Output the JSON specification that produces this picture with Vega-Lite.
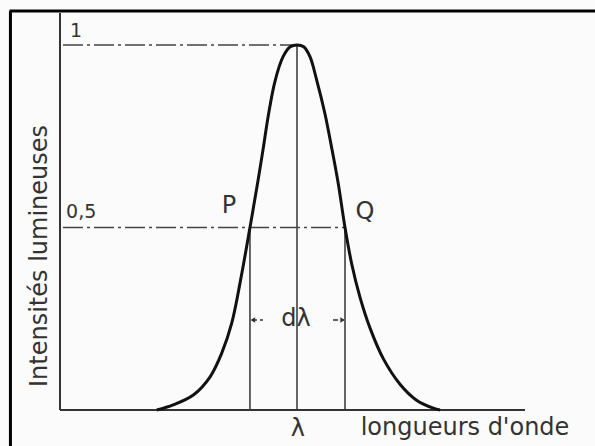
{
  "$schema": "https://vega.github.io/schema/vega-lite/v6.json",
  "width": 595,
  "height": 446,
  "autosize": {"type": "none"},
  "padding": 0,
  "background": "#fbfbfb",
  "config": {"view": {"stroke": null}},
  "datasets": {
    "curve": [
      {"x": -2.92, "y": 0}, {"x": -2.58, "y": 0.014}, {"x": -2.16, "y": 0.041},
      {"x": -1.81, "y": 0.091}, {"x": -1.57, "y": 0.155}, {"x": -1.36, "y": 0.238},
      {"x": -1.17, "y": 0.36}, {"x": -0.98, "y": 0.5},
      {"x": -0.81, "y": 0.63}, {"x": -0.7, "y": 0.72}, {"x": -0.6, "y": 0.805},
      {"x": -0.46, "y": 0.9}, {"x": -0.29, "y": 0.968}, {"x": -0.14, "y": 0.995},
      {"x": 0, "y": 1}, {"x": 0.14, "y": 0.995}, {"x": 0.27, "y": 0.968},
      {"x": 0.41, "y": 0.904}, {"x": 0.58, "y": 0.813}, {"x": 0.72, "y": 0.72},
      {"x": 0.86, "y": 0.62}, {"x": 1.0, "y": 0.5}, {"x": 1.14, "y": 0.4},
      {"x": 1.31, "y": 0.31}, {"x": 1.52, "y": 0.225}, {"x": 1.8, "y": 0.14},
      {"x": 2.15, "y": 0.07}, {"x": 2.49, "y": 0.027}, {"x": 2.84, "y": 0.005},
      {"x": 2.98, "y": 0}
    ],
    "frame": [
      {"x": -5.99, "x2": 6.21, "y": 1.0932, "y2": 1.0932},
      {"x": -5.97, "x2": -5.97, "y": -0.0986, "y2": 1.0932}
    ],
    "axes": [
      {"x": -4.9375, "x2": -4.9375, "y": 0, "y2": 1.0877},
      {"x": -4.9375, "x2": 4.75, "y": 0, "y2": 0}
    ],
    "guides": [
      {"x": -0.98, "x2": -0.98, "y": 0, "y2": 0.5},
      {"x": 0, "x2": 0, "y": 0, "y2": 1},
      {"x": 1.0, "x2": 1.0, "y": 0, "y2": 0.5}
    ],
    "levels": [
      {"x": -4.875, "x2": -0.1, "y": 1, "y2": 1},
      {"x": -4.875, "x2": 1.0, "y": 0.5, "y2": 0.5}
    ],
    "arrowShafts": [
      {"x": -0.94, "x2": -0.71, "y": 0.2466, "y2": 0.2466},
      {"x": 0.75, "x2": 0.97, "y": 0.2466, "y2": 0.2466}
    ],
    "arrowHeads": [
      {"x": -0.92, "y": 0.2466, "dir": "left"},
      {"x": 0.95, "y": 0.2466, "dir": "right"}
    ],
    "tickLabels": [
      {"x": -4.73, "y": 1.022, "label": "1"},
      {"x": -4.81, "y": 0.526, "label": "0,5"}
    ],
    "points": [
      {"x": -1.417, "y": 0.54, "label": "P"},
      {"x": 1.417, "y": 0.523, "label": "Q"}
    ],
    "annot": [
      {"x": -0.02, "y": 0.23, "label": "dλ"},
      {"x": 0.02, "y": -0.0712, "label": "λ"},
      {"x": 3.5, "y": -0.0685, "label": "longueurs d'onde"}
    ],
    "ytitle": [
      {"x": -5.354, "y": 0.4219, "label": "Intensités lumineuses"}
    ]
  },
  "layer": [
    {
      "data": {"name": "frame"},
      "mark": {"type": "rule", "strokeWidth": 3, "color": "#000000"},
      "encoding": {
        "x": {"field": "x", "type": "quantitative", "scale": {"domain": [-6.1875, 6.2083], "nice": false, "zero": false}, "axis": null},
        "x2": {"field": "x2"},
        "y": {"field": "y", "type": "quantitative", "scale": {"domain": [-0.0986, 1.1233], "nice": false, "zero": false}, "axis": null},
        "y2": {"field": "y2"}
      }
    },
    {
      "data": {"name": "axes"},
      "mark": {"type": "rule", "strokeWidth": 2, "color": "#333333"},
      "encoding": {
        "x": {"field": "x", "type": "quantitative", "scale": {"domain": [-6.1875, 6.2083], "nice": false, "zero": false}, "axis": null},
        "x2": {"field": "x2"},
        "y": {"field": "y", "type": "quantitative", "scale": {"domain": [-0.0986, 1.1233], "nice": false, "zero": false}, "axis": null},
        "y2": {"field": "y2"}
      }
    },
    {
      "data": {"name": "guides"},
      "mark": {"type": "rule", "strokeWidth": 1.5, "color": "#333333"},
      "encoding": {
        "x": {"field": "x", "type": "quantitative", "scale": {"domain": [-6.1875, 6.2083], "nice": false, "zero": false}, "axis": null},
        "x2": {"field": "x2"},
        "y": {"field": "y", "type": "quantitative", "scale": {"domain": [-0.0986, 1.1233], "nice": false, "zero": false}, "axis": null},
        "y2": {"field": "y2"}
      }
    },
    {
      "data": {"name": "levels"},
      "mark": {"type": "rule", "strokeWidth": 1.5, "color": "#444444", "strokeDash": [20, 4, 3, 4]},
      "encoding": {
        "x": {"field": "x", "type": "quantitative", "scale": {"domain": [-6.1875, 6.2083], "nice": false, "zero": false}, "axis": null},
        "x2": {"field": "x2"},
        "y": {"field": "y", "type": "quantitative", "scale": {"domain": [-0.0986, 1.1233], "nice": false, "zero": false}, "axis": null},
        "y2": {"field": "y2"}
      }
    },
    {
      "data": {"name": "arrowShafts"},
      "mark": {"type": "rule", "strokeWidth": 1.3, "color": "#333333", "strokeDash": [5, 3]},
      "encoding": {
        "x": {"field": "x", "type": "quantitative", "scale": {"domain": [-6.1875, 6.2083], "nice": false, "zero": false}, "axis": null},
        "x2": {"field": "x2"},
        "y": {"field": "y", "type": "quantitative", "scale": {"domain": [-0.0986, 1.1233], "nice": false, "zero": false}, "axis": null},
        "y2": {"field": "y2"}
      }
    },
    {
      "data": {"name": "arrowHeads"},
      "mark": {"type": "point", "filled": true, "size": 28, "color": "#333333", "opacity": 1},
      "encoding": {
        "x": {"field": "x", "type": "quantitative", "scale": {"domain": [-6.1875, 6.2083], "nice": false, "zero": false}, "axis": null},
        "y": {"field": "y", "type": "quantitative", "scale": {"domain": [-0.0986, 1.1233], "nice": false, "zero": false}, "axis": null},
        "shape": {"field": "dir", "type": "nominal", "scale": {"domain": ["left", "right"], "range": ["triangle-left", "triangle-right"]}, "legend": null}
      }
    },
    {
      "data": {"name": "curve"},
      "mark": {"type": "line", "strokeWidth": 3, "color": "#111111", "interpolate": "catmull-rom"},
      "encoding": {
        "x": {"field": "x", "type": "quantitative", "scale": {"domain": [-6.1875, 6.2083], "nice": false, "zero": false}, "axis": null},
        "y": {"field": "y", "type": "quantitative", "scale": {"domain": [-0.0986, 1.1233], "nice": false, "zero": false}, "axis": null}
      }
    },
    {
      "data": {"name": "tickLabels"},
      "mark": {"type": "text", "font": "DejaVu Sans", "fontSize": 19, "align": "left", "baseline": "alphabetic", "color": "#333333"},
      "encoding": {
        "x": {"field": "x", "type": "quantitative", "scale": {"domain": [-6.1875, 6.2083], "nice": false, "zero": false}, "axis": null},
        "y": {"field": "y", "type": "quantitative", "scale": {"domain": [-0.0986, 1.1233], "nice": false, "zero": false}, "axis": null},
        "text": {"field": "label"}
      }
    },
    {
      "data": {"name": "points"},
      "mark": {"type": "text", "font": "DejaVu Sans", "fontSize": 24, "align": "center", "baseline": "alphabetic", "color": "#333333"},
      "encoding": {
        "x": {"field": "x", "type": "quantitative", "scale": {"domain": [-6.1875, 6.2083], "nice": false, "zero": false}, "axis": null},
        "y": {"field": "y", "type": "quantitative", "scale": {"domain": [-0.0986, 1.1233], "nice": false, "zero": false}, "axis": null},
        "text": {"field": "label"}
      }
    },
    {
      "data": {"name": "annot"},
      "mark": {"type": "text", "font": "DejaVu Sans", "fontSize": 24, "align": "center", "baseline": "alphabetic", "color": "#333333"},
      "encoding": {
        "x": {"field": "x", "type": "quantitative", "scale": {"domain": [-6.1875, 6.2083], "nice": false, "zero": false}, "axis": null},
        "y": {"field": "y", "type": "quantitative", "scale": {"domain": [-0.0986, 1.1233], "nice": false, "zero": false}, "axis": null},
        "text": {"field": "label"}
      }
    },
    {
      "data": {"name": "ytitle"},
      "mark": {"type": "text", "font": "DejaVu Sans", "fontSize": 24, "align": "center", "baseline": "middle", "angle": 270, "color": "#333333"},
      "encoding": {
        "x": {"field": "x", "type": "quantitative", "scale": {"domain": [-6.1875, 6.2083], "nice": false, "zero": false}, "axis": null},
        "y": {"field": "y", "type": "quantitative", "scale": {"domain": [-0.0986, 1.1233], "nice": false, "zero": false}, "axis": null},
        "text": {"field": "label"}
      }
    }
  ]
}
